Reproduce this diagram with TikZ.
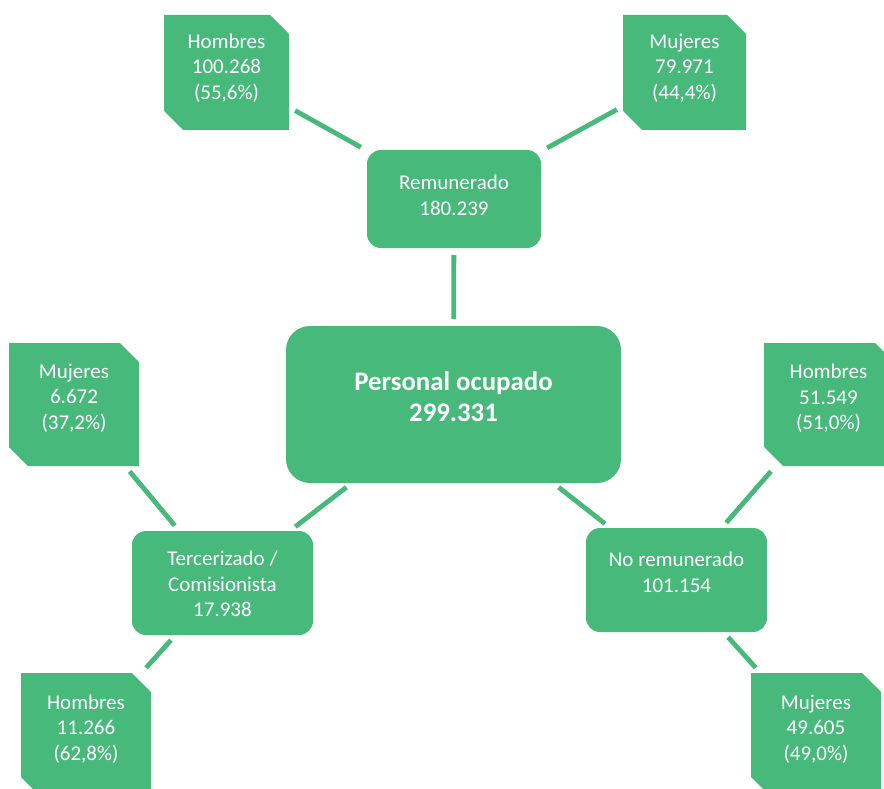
\documentclass[tikz,border=0pt]{standalone}
\usepackage{fontspec}
\setmainfont{Carlito}
\definecolor{gfill}{RGB}{71,185,123}
\tikzset{
  box/.style={fill=gfill, rounded corners=14pt, inner sep=0pt, outer sep=0pt},
  bigbox/.style={box, rounded corners=24pt},
  leaf/.style={inner sep=0pt, outer sep=0pt, minimum width=130pt, minimum height=123pt},
  txt/.style={text=white, align=center, inner sep=0pt, font=\fontsize{21}{25.5}\selectfont},
  bigtxt/.style={text=white, align=center, inner sep=0pt, font=\fontsize{26.8}{31}\selectfont\bfseries},
  link/.style={draw=gfill, line width=4.8pt, shorten <=7pt, shorten >=7pt}
}
\newcommand\leafbox[1]{\fill[gfill] (#1.north west) -- ([xshift=-19pt]#1.north east) -- ([yshift=-19pt]#1.north east) -- (#1.south east) -- ([xshift=19pt]#1.south west) -- ([yshift=19pt]#1.south west) -- cycle;}
\begin{document}
\begin{tikzpicture}[x=1pt,y=-1pt]
\useasboundingbox (0,0) rectangle (884,789);
\clip (0,0) rectangle (884,789);
% rounded boxes
\node[box, minimum width=174pt, minimum height=98pt] (rem) at (454,199) {};
\node[bigbox, minimum width=335pt, minimum height=157pt] (tot) at (453.5,404.5) {};
\node[box, minimum width=181pt, minimum height=104pt] (ter) at (222.5,583) {};
\node[box, minimum width=181pt, minimum height=104pt] (nor) at (676.5,580) {};
% leaf boxes
\node[leaf, minimum width=125pt, minimum height=115pt] (h1) at (226.5,72.5) {};
\node[leaf, minimum width=123pt, minimum height=115pt] (m1) at (684.5,72.5) {};
\node[leaf] (ml) at (74,404.5) {};
\node[leaf] (hr) at (829,404.5) {};
\node[leaf] (hb) at (86,734.5) {};
\node[leaf] (mb) at (816,734.5) {};
\leafbox{h1}\leafbox{m1}\leafbox{ml}\leafbox{hr}\leafbox{hb}\leafbox{mb}
% connectors
\draw[link] (h1) -- (rem);
\draw[link] (m1) -- (rem);
\draw[link] (rem) -- (tot);
\draw[link] (tot) -- (ter);
\draw[link] (tot) -- (nor);
\draw[link] (ml) -- (ter);
\draw[link] (ter) -- (hb);
\draw[link] (hr) -- (nor);
\draw[link] (nor) -- (mb);
% texts
\node[txt] (th1) at (226.5,68) {Hombres\\100.268\\(55,6\%)};
\node[txt] (tm1) at (684.5,68) {Mujeres\\79.971\\(44,4\%)};
\node[txt] (trem) at (454,195.5) {Remunerado\\180.239};
\node[bigtxt] (ttot) at (453.5,396.5) {Personal ocupado\\299.331};
\node[txt] (tml) at (74,398) {Mujeres\\6.672\\(37,2\%)};
\node[txt] (tter) at (222.5,584) {Tercerizado /\\Comisionista\\17.938};
\node[txt] (thr) at (828.5,398.5) {Hombres\\51.549\\(51,0\%)};
\node[txt] (tnor) at (676.5,572.5) {No remunerado\\101.154};
\node[txt] (thb) at (86,729) {Hombres\\11.266\\(62,8\%)};
\node[txt] (tmb) at (816,729) {Mujeres\\49.605\\(49,0\%)};
\end{tikzpicture}
\end{document}
